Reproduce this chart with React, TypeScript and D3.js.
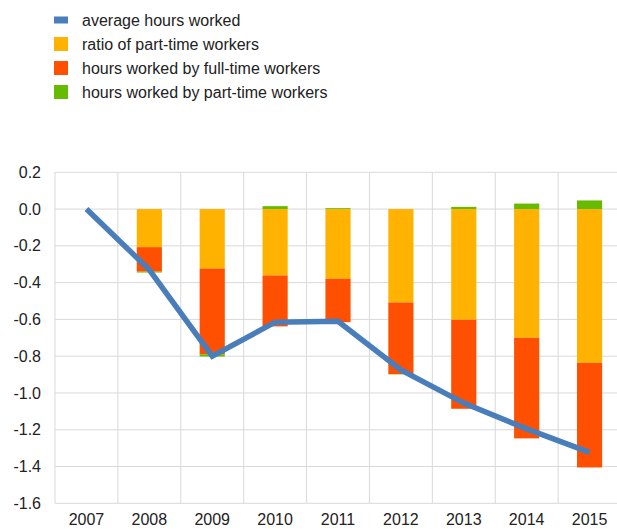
import React from 'react';
import * as d3 from 'd3';

const years = ['2007', '2008', '2009', '2010', '2011', '2012', '2013', '2014', '2015'];
const avgHours = [0, -0.33, -0.8, -0.615, -0.61, -0.875, -1.055, -1.195, -1.323];
const ratioPartTime = [0, -0.207, -0.323, -0.361, -0.379, -0.508, -0.602, -0.7, -0.836];
const fullTimeHours = [0, -0.133, -0.467, -0.277, -0.236, -0.389, -0.484, -0.547, -0.569];
const partTimeHours = [0, -0.005, -0.012, 0.016, 0.005, -0.002, 0.012, 0.03, 0.047];
const yTicks = [0.2, 0, -0.2, -0.4, -0.6, -0.8, -1.0, -1.2, -1.4, -1.6];

const seriesKeys = ['ratio', 'full', 'part'];
const colors: Record<string, string> = { ratio: '#FFB300', full: '#FF4F00', part: '#66BB00' };
const lineColor = '#4A7EBB';

const legendItems = [
  { label: 'average hours worked', color: lineColor, kind: 'line' },
  { label: 'ratio of part-time workers', color: colors.ratio, kind: 'box' },
  { label: 'hours worked by full-time workers', color: colors.full, kind: 'box' },
  { label: 'hours worked by part-time workers', color: colors.part, kind: 'box' },
];

const W = 617;
const H = 529;
const font = "'Liberation Sans', Arial, sans-serif";

// plain hyphen for the minus sign, like the original
const fmt = (v: number) => d3.format('.1f')(v).replace('\u2212', '-');

export default function App() {
  const left = 55;
  const right = 621;
  const top = 172.3;
  const bottom = 503.3;

  const x = d3.scaleBand().domain(years).range([left, right]).paddingInner(0).paddingOuter(0);
  const y = d3.scaleLinear().domain([0.2, -1.6]).range([top, bottom]);

  const rows = years.map((yr, i) => ({
    year: yr,
    ratio: ratioPartTime[i],
    full: fullTimeHours[i],
    part: partTimeHours[i],
  }));
  const stacked = d3.stack<any>().keys(seriesKeys).offset(d3.stackOffsetDiverging)(rows);

  const barW = x.bandwidth() * 0.4;
  const line = d3
    .line<number>()
    .x((_, i) => (x(years[i]) as number) + x.bandwidth() / 2)
    .y((d) => y(d));

  return (
    <svg width={W} height={H} style={{ position: 'absolute', left: 0, top: 0 }} fontFamily={font}>
      {/* legend */}
      {legendItems.map((item, i) => {
        const cy = 20 + i * 24;
        return (
          <g key={item.label}>
            {item.kind === 'line' ? (
              <rect x={54} y={cy - 3.5} width={14} height={7} fill={item.color} />
            ) : (
              <rect x={54} y={cy - 7} width={14} height={14} fill={item.color} />
            )}
            <text x={82} y={cy} dy="0.35em" fontSize={16} fill="#222">
              {item.label}
            </text>
          </g>
        );
      })}

      {/* grid */}
      {yTicks.map((t) => (
        <line key={'h' + t} x1={left} x2={right} y1={y(t)} y2={y(t)} stroke="#d9d9d9" strokeWidth={1} />
      ))}
      {years.map((yr) => (
        <line
          key={'v' + yr}
          x1={x(yr) as number}
          x2={x(yr) as number}
          y1={top}
          y2={bottom}
          stroke="#d9d9d9"
          strokeWidth={1}
        />
      ))}

      {/* y labels */}
      {yTicks.map((t) => (
        <text key={'yl' + t} x={41} y={y(t)} dy="0.35em" textAnchor="end" fontSize={16} fill="#222">
          {fmt(t)}
        </text>
      ))}

      {/* x labels */}
      {years.map((yr) => (
        <text
          key={'xl' + yr}
          x={(x(yr) as number) + x.bandwidth() / 2}
          y={525}
          textAnchor="middle"
          fontSize={16}
          fill="#222"
        >
          {yr}
        </text>
      ))}

      {/* bars */}
      {stacked.map((s) => (
        <g key={s.key} fill={colors[s.key]}>
          {s.map((d, i) => {
            const y0 = y(Math.max(d[0], d[1]));
            const y1 = y(Math.min(d[0], d[1]));
            if (y1 - y0 <= 0) return null;
            return (
              <rect
                key={i}
                x={(x(years[i]) as number) + (x.bandwidth() - barW) / 2}
                y={y0}
                width={barW}
                height={y1 - y0}
              />
            );
          })}
        </g>
      ))}

      {/* average hours line */}
      <path d={line(avgHours) as string} fill="none" stroke={lineColor} strokeWidth={5.5} strokeLinejoin="miter" />
    </svg>
  );
}
